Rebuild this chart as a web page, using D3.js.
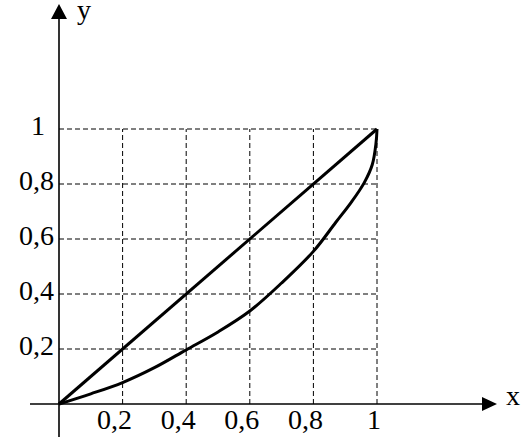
<!DOCTYPE html>
<html><head><meta charset="utf-8">
<script src="https://cdn.jsdelivr.net/npm/d3@7"></script>
<style>body{margin:0;background:#fff}svg{display:block}</style>
</head><body>
<svg id="c" width="532" height="443"></svg>
<script>
const xTicks = [0.2, 0.4, 0.6, 0.8, 1];
const yTicks = [0.2, 0.4, 0.6, 0.8, 1];
const tickLabels = ["0,2", "0,4", "0,6", "0,8", "1"];
const diagX = [0, 1];
const diagY = [0, 1];
const curveX = [0, 0.1, 0.2, 0.3, 0.4, 0.5, 0.6, 0.7, 0.8, 0.87, 0.92, 0.96, 0.985, 0.997, 1];
const curveY = [0, 0.037, 0.078, 0.132, 0.197, 0.262, 0.338, 0.44, 0.555, 0.66, 0.735, 0.805, 0.87, 0.95, 1];

const FONT = "'Liberation Serif', 'Times New Roman', Times, serif";
const svg = d3.select("#c");
const x = d3.scaleLinear().domain([0, 1]).range([59, 377]);
const y = d3.scaleLinear().domain([0, 1]).range([404, 129]);

// grid
const g = svg.append("g").attr("stroke", "#000").attr("stroke-width", 1).attr("stroke-dasharray", "5,3").attr("fill", "none");
yTicks.forEach(v => g.append("line").attr("x1", x(0)).attr("x2", x(1)).attr("y1", y(v)).attr("y2", y(v)));
xTicks.forEach(v => g.append("line").attr("x1", x(v)).attr("x2", x(v)).attr("y1", y(0)).attr("y2", y(1)));

// axes
svg.append("line").attr("x1", 30).attr("x2", 484).attr("y1", y(0)).attr("y2", y(0)).attr("stroke", "#000").attr("stroke-width", 1.6);
svg.append("line").attr("x1", x(0)).attr("x2", x(0)).attr("y1", 437).attr("y2", 17).attr("stroke", "#000").attr("stroke-width", 1.6);
svg.append("path").attr("d", `M497,${y(0)} L482,${y(0)-7} L482,${y(0)+7} Z`).attr("fill", "#000");
svg.append("path").attr("d", `M${x(0)},4 L${x(0)-8},19 L${x(0)+8},19 Z`).attr("fill", "#000");

function txt(px, py, s, size, anchor) {
  return svg.append("text").attr("x", px).attr("y", py).attr("text-anchor", anchor || "start")
    .style("font-family", FONT).style("font-size", size + "px").style("fill", "#000").text(s);
}
txt(77, 19, "y", 28);
txt(506, 405, "x", 28);

// tick labels
xTicks.forEach((v, i) => txt(x(v) - (v === 1 ? 3 : 8), 429, tickLabels[i], 28, "middle"));
yTicks.forEach((v, i) => txt(v === 1 ? 45 : 54, y(v) + 6, tickLabels[i], 28, "end"));

// lines
const line = d3.line().x(d => x(d[0])).y(d => y(d[1]));
svg.append("path").datum(diagX.map((v, i) => [v, diagY[i]])).attr("d", line)
  .attr("fill", "none").attr("stroke", "#000").attr("stroke-width", 3);
svg.append("path").datum(curveX.map((v, i) => [v, curveY[i]])).attr("d", line.curve(d3.curveCatmullRom.alpha(0.5)))
  .attr("fill", "none").attr("stroke", "#000").attr("stroke-width", 3);
</script>
</body></html>
